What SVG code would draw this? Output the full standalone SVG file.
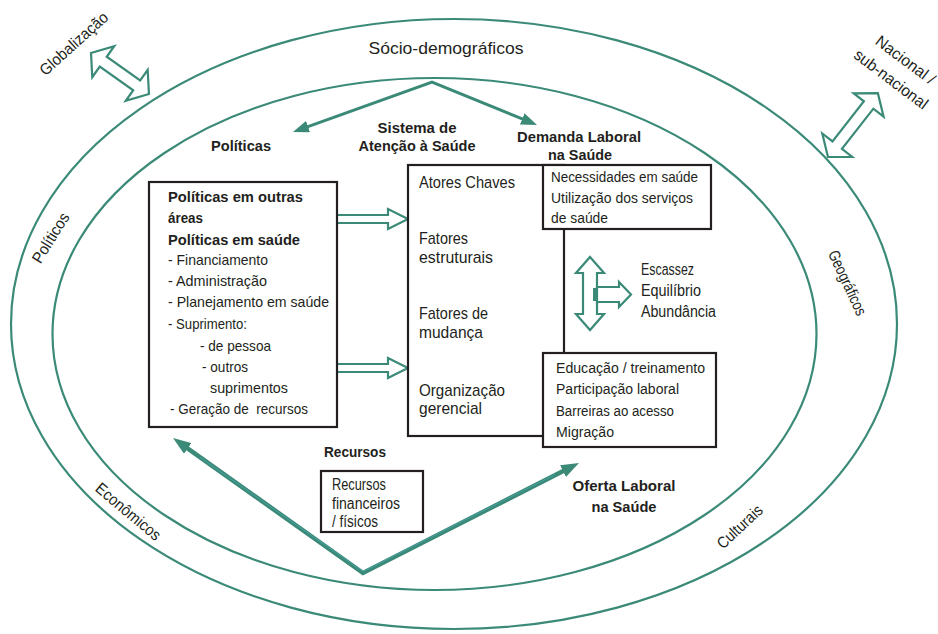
<svg xmlns="http://www.w3.org/2000/svg" width="938" height="634" viewBox="0 0 938 634">
<style>
  .ring{fill:none;stroke:#3b8a78;stroke-width:2.2}
  .t{font-family:"Liberation Sans",Arial,sans-serif;fill:#231f20;}
  .b{font-weight:bold}
  .box{fill:#fff;stroke:#231f20;stroke-width:2.2}
  .hollow{fill:#fff;stroke:#3b8a78;stroke-width:2.2;stroke-linejoin:miter}
  .ln{fill:none;stroke:#3b8a78;stroke-linejoin:miter}
</style>
<defs>
  <marker id="ah" viewBox="0 0 16 12" refX="6" refY="6" markerWidth="16" markerHeight="12" markerUnits="userSpaceOnUse" orient="auto-start-reverse">
    <path d="M0,0 L16,6 L0,12 z" fill="#3b8a78"/>
  </marker>
  <marker id="ahb" viewBox="0 0 18 13" refX="8" refY="6.5" markerWidth="18" markerHeight="13" markerUnits="userSpaceOnUse" orient="auto-start-reverse">
    <path d="M0,0 L18,6.5 L0,13 z" fill="#3b8a78"/>
  </marker>
</defs>
<rect width="938" height="634" fill="#fff"/>

<g id="rings">
  <ellipse class="ring" cx="454" cy="324" rx="443" ry="305"/>
  <ellipse class="ring" cx="434.5" cy="334" rx="382" ry="256"/>
</g>

<g id="context-labels" class="t" font-size="16">
  <text x="446" y="54" text-anchor="middle" font-size="17" textLength="155" lengthAdjust="spacingAndGlyphs">Sócio-demográficos</text>
  <g transform="translate(74,44) rotate(-42)"><text x="0" y="5" text-anchor="middle" textLength="86" lengthAdjust="spacingAndGlyphs">Globalização</text></g>
  <g transform="translate(898,70) rotate(37)">
    <text x="0" y="-7" text-anchor="middle" textLength="70" lengthAdjust="spacingAndGlyphs">Nacional /</text>
    <text x="0" y="17" text-anchor="middle" textLength="88" lengthAdjust="spacingAndGlyphs">sub-nacional</text>
  </g>
  <g transform="translate(51,238) rotate(-58)"><text x="0" y="5" text-anchor="middle" textLength="56" lengthAdjust="spacingAndGlyphs">Políticos</text></g>
  <g transform="translate(847,283) rotate(65)"><text x="0" y="5" text-anchor="middle" textLength="70" lengthAdjust="spacingAndGlyphs">Geográficos</text></g>
  <g transform="translate(128,512) rotate(40)"><text x="0" y="5" text-anchor="middle" textLength="80" lengthAdjust="spacingAndGlyphs">Econômicos</text></g>
  <g transform="translate(740,527) rotate(-43)"><text x="0" y="5" text-anchor="middle" textLength="56" lengthAdjust="spacingAndGlyphs">Culturais</text></g>
</g>

<g id="connectors">
  <polyline class="ln" stroke-width="3" points="302.4,128.6 432,82 527.75,121.2" marker-start="url(#ah)" marker-end="url(#ah)"/>
  <polyline class="ln" stroke-width="4.5" points="181.2,443.8 363,573 570.1,467.5" marker-start="url(#ahb)" marker-end="url(#ahb)"/>
  <polyline fill="none" stroke="#4aa3a8" stroke-width="0.9" points="200,457.3 363,571.5 555,474.5"/>
  <polygon class="hollow" points="336,215 388,215 388,209 408,219 388,229 388,223 336,223"/>
  <polygon class="hollow" points="336,364 388,364 388,358 408,368 388,378 388,372 336,372"/>
  <polygon class="hollow" transform="translate(91,53) rotate(35.3)" points="0,0 15,-19 15,-6 56,-6 56,-19 71,0 56,19 56,6 15,6 15,19"/>
  <polygon class="hollow" transform="translate(828,157) rotate(-52)" points="0,0 15,-19 15,-6 66,-6 66,-19 81,0 66,19 66,6 15,6 15,19"/>
  <polygon class="hollow" points="590,257 604,273 597,273 597,314 604,314 590,330 576,314 583,314 583,273 576,273"/>
  <polygon class="hollow" points="597,287 619,287 619,282 631,294.5 619,307 619,302 597,302"/>
  <rect x="593" y="288" width="5" height="13" fill="#3b8a78"/>
</g>

<g id="label-politicas" class="t b" font-size="15.5">
  <text x="241" y="151" text-anchor="middle" textLength="60" lengthAdjust="spacingAndGlyphs">Políticas</text>
</g>
<g id="label-sistema" class="t b" font-size="15.5">
  <text x="417" y="133" text-anchor="middle" textLength="79" lengthAdjust="spacingAndGlyphs">Sistema de</text>
  <text x="417" y="151" text-anchor="middle" textLength="117" lengthAdjust="spacingAndGlyphs">Atenção à Saúde</text>
</g>
<g id="label-demanda" class="t b" font-size="15.5">
  <text x="579" y="142" text-anchor="middle" textLength="124" lengthAdjust="spacingAndGlyphs">Demanda Laboral</text>
  <text x="580" y="160" text-anchor="middle" textLength="64" lengthAdjust="spacingAndGlyphs">na Saúde</text>
</g>
<g id="label-recursos" class="t b" font-size="15.5">
  <text x="355" y="457" text-anchor="middle" textLength="62" lengthAdjust="spacingAndGlyphs">Recursos</text>
</g>
<g id="label-oferta" class="t b" font-size="15.5">
  <text x="624" y="491" text-anchor="middle" textLength="103" lengthAdjust="spacingAndGlyphs">Oferta Laboral</text>
  <text x="624" y="512" text-anchor="middle" textLength="65" lengthAdjust="spacingAndGlyphs">na Saúde</text>
</g>

<g id="node-politicas-box">
  <rect class="box" x="149" y="182" width="188" height="245"/>
  <g class="t" font-size="15">
    <text class="b" x="168" y="202" textLength="135" lengthAdjust="spacingAndGlyphs">Políticas em outras</text>
    <text class="b" x="168" y="223" textLength="35" lengthAdjust="spacingAndGlyphs">áreas</text>
    <text class="b" x="168" y="245" textLength="132" lengthAdjust="spacingAndGlyphs">Políticas em saúde</text>
    <text x="168" y="265" textLength="100" lengthAdjust="spacingAndGlyphs">- Financiamento</text>
    <text x="168" y="286" textLength="99" lengthAdjust="spacingAndGlyphs">- Administração</text>
    <text x="168" y="307" textLength="161" lengthAdjust="spacingAndGlyphs">- Planejamento em saúde</text>
    <text x="168" y="329" textLength="79" lengthAdjust="spacingAndGlyphs">- Suprimento:</text>
    <text x="200" y="351" textLength="71" lengthAdjust="spacingAndGlyphs">- de pessoa</text>
    <text x="202" y="372" textLength="46" lengthAdjust="spacingAndGlyphs">- outros</text>
    <text x="210" y="393" textLength="78" lengthAdjust="spacingAndGlyphs">suprimentos</text>
    <text x="170" y="414" textLength="138" lengthAdjust="spacingAndGlyphs" style="white-space:pre">- Geração de  recursos</text>
  </g>
</g>

<g id="node-sistema-box">
  <rect class="box" x="408" y="165" width="156" height="271"/>
  <g class="t" font-size="17">
    <text x="419" y="188" textLength="96" lengthAdjust="spacingAndGlyphs">Atores Chaves</text>
    <text x="419" y="244" textLength="49" lengthAdjust="spacingAndGlyphs">Fatores</text>
    <text x="419" y="263" textLength="74" lengthAdjust="spacingAndGlyphs">estruturais</text>
    <text x="419" y="319" textLength="69" lengthAdjust="spacingAndGlyphs">Fatores de</text>
    <text x="419" y="338" textLength="64" lengthAdjust="spacingAndGlyphs">mudança</text>
    <text x="419" y="396" textLength="86" lengthAdjust="spacingAndGlyphs">Organização</text>
    <text x="419" y="414" textLength="63" lengthAdjust="spacingAndGlyphs">gerencial</text>
  </g>
</g>

<g id="node-demanda-box">
  <rect class="box" x="543" y="165" width="168" height="64"/>
  <g class="t" font-size="15.5">
    <text x="551" y="182" textLength="147" lengthAdjust="spacingAndGlyphs">Necessidades em saúde</text>
    <text x="551" y="203" textLength="142" lengthAdjust="spacingAndGlyphs">Utilização dos serviços</text>
    <text x="551" y="223" textLength="57" lengthAdjust="spacingAndGlyphs">de saúde</text>
  </g>
</g>

<g id="node-oferta-box">
  <rect class="box" x="543" y="353" width="173" height="94"/>
  <g class="t" font-size="15.5">
    <text x="556" y="373" textLength="149" lengthAdjust="spacingAndGlyphs">Educação / treinamento</text>
    <text x="556" y="394" textLength="123" lengthAdjust="spacingAndGlyphs">Participação laboral</text>
    <text x="556" y="416" textLength="118" lengthAdjust="spacingAndGlyphs">Barreiras ao acesso</text>
    <text x="556" y="437" textLength="58" lengthAdjust="spacingAndGlyphs">Migração</text>
  </g>
</g>

<g id="node-equilibrio" class="t" font-size="16">
  <text x="641" y="275" textLength="53" lengthAdjust="spacingAndGlyphs">Escassez</text>
  <text x="641" y="296" textLength="60" lengthAdjust="spacingAndGlyphs">Equilíbrio</text>
  <text x="641" y="317" textLength="75" lengthAdjust="spacingAndGlyphs">Abundância</text>
</g>

<g id="node-recursos-box">
  <rect class="box" x="321" y="471" width="102" height="61"/>
  <g class="t" font-size="16">
    <text x="332" y="490" textLength="54" lengthAdjust="spacingAndGlyphs">Recursos</text>
    <text x="332" y="509" textLength="68" lengthAdjust="spacingAndGlyphs">financeiros</text>
    <text x="332" y="527" textLength="46" lengthAdjust="spacingAndGlyphs">/ físicos</text>
  </g>
</g>
</svg>
